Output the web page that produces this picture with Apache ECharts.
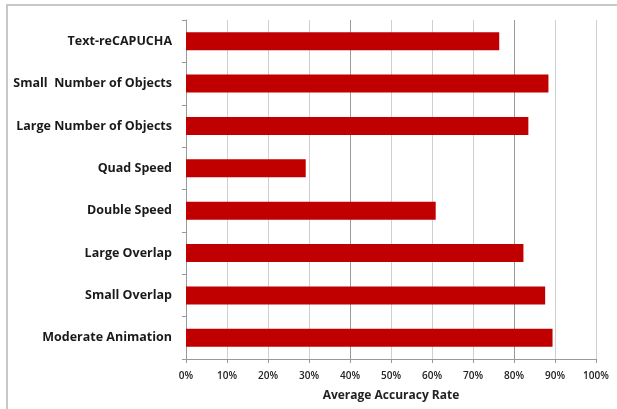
<!DOCTYPE html>
<html>
<head>
<meta charset="utf-8">
<script src="https://cdn.jsdelivr.net/npm/echarts@6/dist/echarts.min.js"></script>
<style>
  html, body { margin: 0; padding: 0; background: #fff; }
  #chart { width: 617px; height: 409px; }
</style>
</head>
<body>
<div id="chart"></div>
<script>
// Test conditions, listed top to bottom
const categories = [
  'Text-reCAPUCHA',
  'Small  Number of Objects',
  'Large Number of Objects',
  'Quad Speed',
  'Double Speed',
  'Large Overlap',
  'Small Overlap',
  'Moderate Animation'
];

// Average accuracy rate per condition (%)
const accuracy = [76.4, 88.4, 83.5, 29.2, 60.9, 82.3, 87.6, 89.4];

const axisName = 'Average Accuracy Rate';

const chart = echarts.init(document.getElementById('chart'), null, { renderer: 'canvas' });

chart.setOption({
  animation: false,
  backgroundColor: '#ffffff',
  graphic: [
    {
      type: 'rect',
      shape: { x: 7, y: 5, width: 640, height: 440 },
      style: { fill: 'none', stroke: '#c8c8c8', lineWidth: 2 },
      silent: true,
      z: 0
    }
  ],
  grid: { left: 186, right: 21, top: 20, bottom: 50 },
  xAxis: {
    type: 'value',
    min: 0,
    max: 100,
    interval: 10,
    name: axisName,
    nameLocation: 'middle',
    nameGap: 31,
    nameTextStyle: { fontFamily: 'Open Sans', fontWeight: 'bold', fontSize: 12, color: '#222' },
    axisLine: { show: true, lineStyle: { color: '#999', width: 1 } },
    axisTick: { show: true, length: 4, lineStyle: { color: '#999' } },
    axisLabel: {
      margin: 12,
      fontFamily: 'Open Sans',
      fontWeight: 600,
      fontSize: 10,
      color: '#222',
      formatter: v => v + '%'
    },
    splitLine: {
      show: true,
      lineStyle: { color: ['#9a9a9a', '#cfcfcf', '#cfcfcf', '#cfcfcf'], width: 1 }
    }
  },
  yAxis: {
    type: 'category',
    data: categories,
    inverse: true,
    axisLine: { show: true, lineStyle: { color: '#999', width: 1 } },
    axisTick: { show: true, length: 4, lineStyle: { color: '#999' } },
    axisLabel: {
      margin: 14,
      fontFamily: 'Open Sans',
      fontWeight: 'bold',
      fontSize: 12.5,
      color: '#1a1a1a'
    },
    splitLine: { show: false }
  },
  series: [
    {
      type: 'bar',
      data: accuracy,
      barWidth: 18,
      itemStyle: { color: '#c00000' }
    }
  ]
});
</script>
</body>
</html>
